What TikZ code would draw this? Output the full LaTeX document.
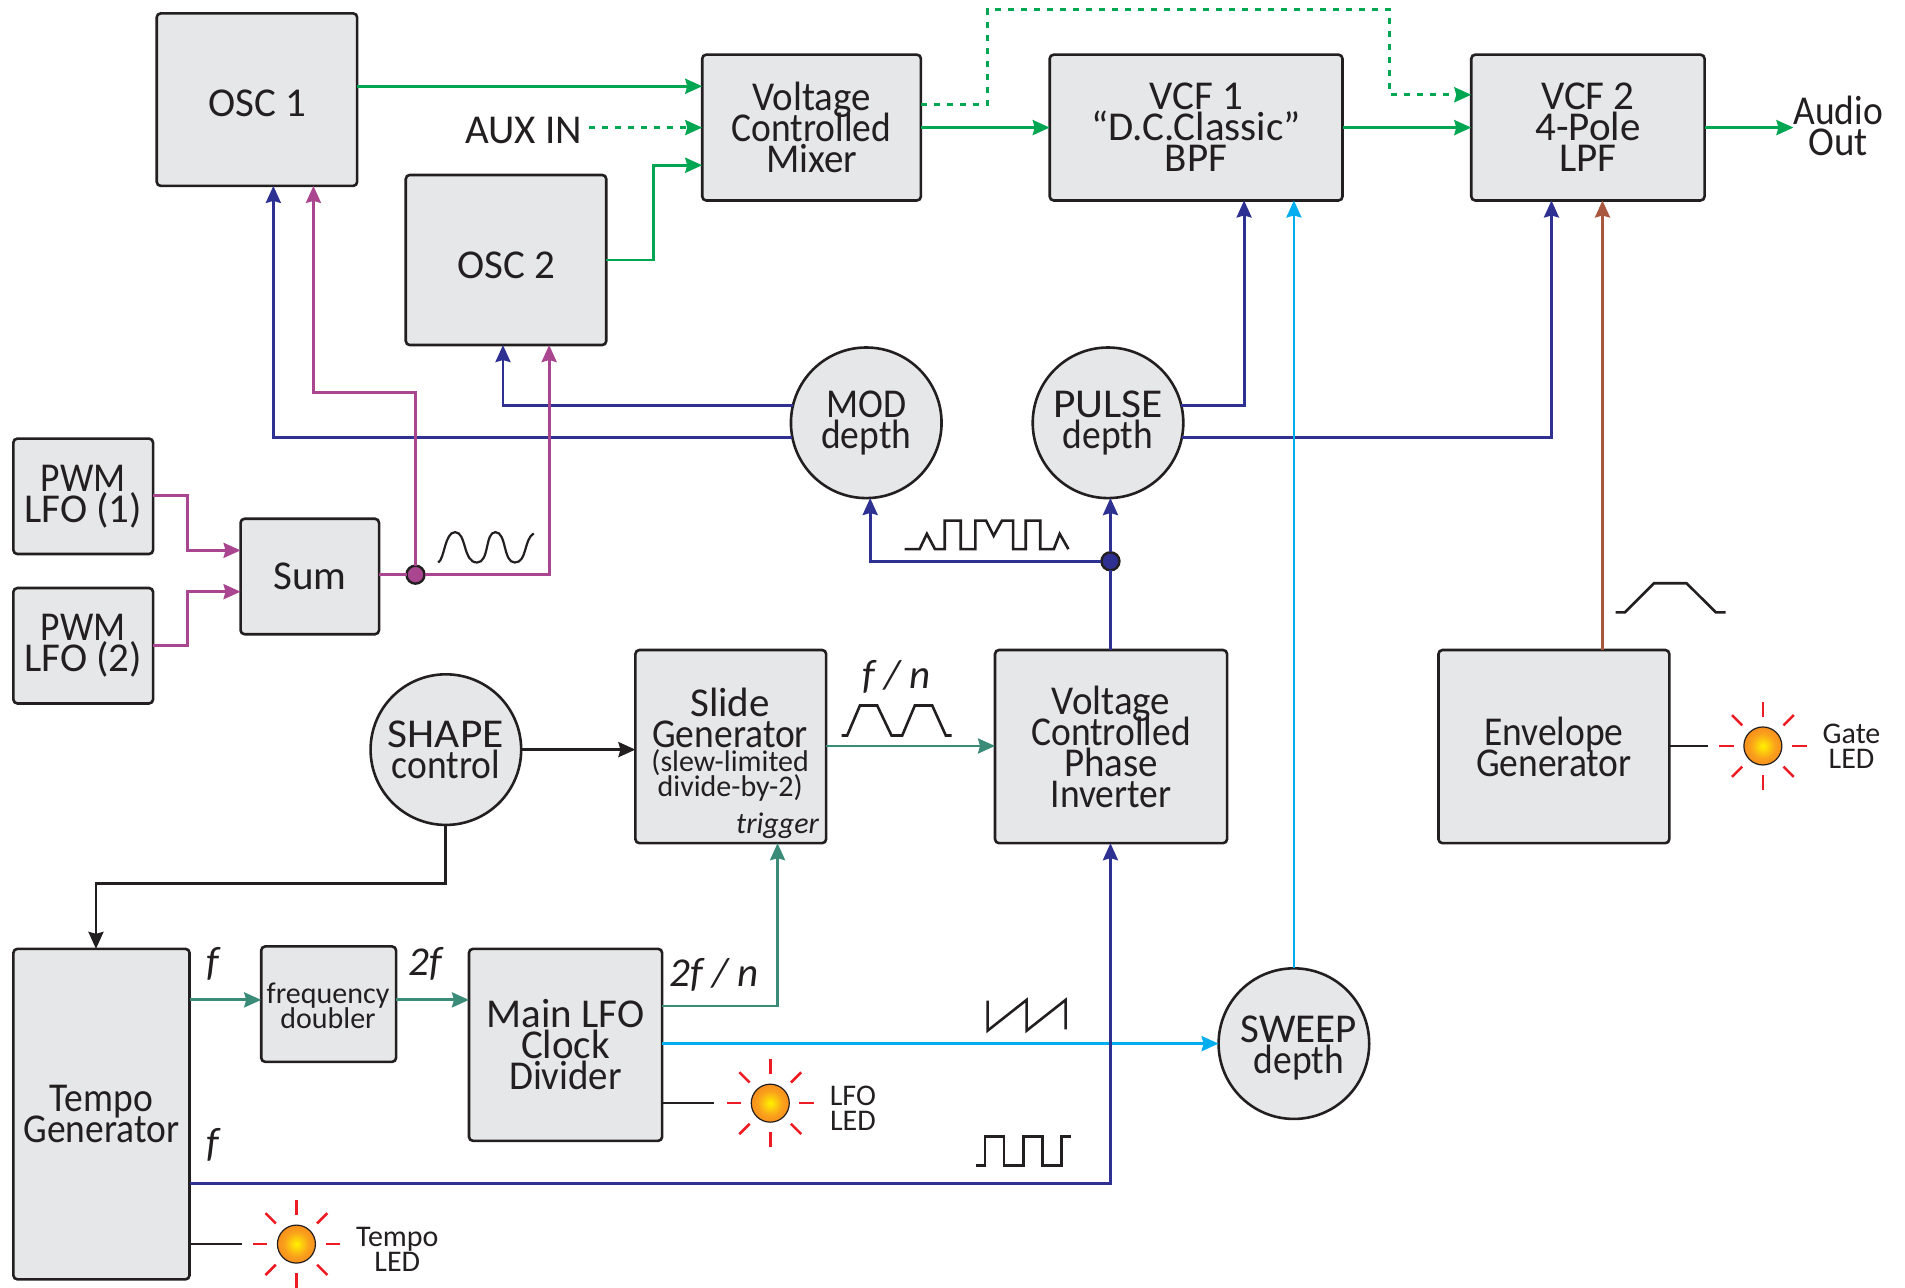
\documentclass[tikz,border=0pt]{standalone}
\usepackage{fontspec}
\setmainfont{Carlito}
\newfontfamily\cnfam[FakeStretch=0.915]{Carlito}
\newfontfamily\cmfam[FakeStretch=0.95]{Carlito}
\newfontfamily\wdfam[FakeStretch=1.06]{Carlito}
\usetikzlibrary{arrows.meta,calc}
\definecolor{ink}{HTML}{231F20}
\definecolor{boxfill}{HTML}{E6E7E8}
\definecolor{cgreen}{HTML}{00A651}
\definecolor{cblue}{HTML}{2E3192}
\definecolor{ccyan}{HTML}{00AEEF}
\definecolor{cmag}{HTML}{A9468F}
\definecolor{cteal}{HTML}{3A8B78}
\definecolor{cbrown}{HTML}{A9583F}
\definecolor{cred}{HTML}{ED1C24}
\definecolor{leda}{HTML}{FFF200}
\definecolor{ledb}{HTML}{FAA21B}
\definecolor{ledc}{HTML}{F47B20}
\definecolor{ledd}{HTML}{EF4A23}
\pgfdeclareradialshading{ledglow}{\pgfpoint{0bp}{0bp}}{%
  color(0bp)=(leda);
  color(16bp)=(ledb);
  color(34bp)=(ledc);
  color(50bp)=(ledd)}
\newcommand{\tgt}{\lineskiplimit=-100pt\relax}
\tikzset{
  x=1.2149pt,y=-1.2149pt,
  every node/.style={text=ink,outer sep=0pt,inner sep=0pt,align=center},
  big/.style={font=\fontsize{41}{31}\selectfont\tgt},
  small/.style={font=\fontsize{30}{25}\selectfont\tgt},
  tiny label/.style={font=\fontsize{30}{24.4}\selectfont\tgt},
  ital/.style={font=\fontsize{41}{31}\selectfont\itshape},
  boxnode/.style={draw=ink,fill=boxfill,line width=2.6pt,rounded corners=4pt,big},
  knob/.style={circle,draw=ink,fill=boxfill,line width=2.6pt,minimum size=150.6pt,big},
  conn/.style={line width=2.8pt,-{Stealth[length=17pt,width=15pt,inset=2pt]}},
  plain/.style={line width=2.6pt,draw=ink},
  dotted line/.style={dash pattern=on 6pt off 7pt},
  wave/.style={line width=2.6pt,draw=ink,line join=miter},
  jdot/.style={circle,draw=ink,line width=2.4pt,minimum size=18pt},
  ray/.style={line width=2.6pt,draw=cred},
  ledbulb/.style={circle,draw=ink,line width=1.2pt,minimum size=38pt,shading=ledglow},
}
\newcommand{\bx}[6]{\node[boxnode,minimum width={(#4-#2)*1.2149pt},minimum height={(#5-#3)*1.2149pt}] (#1) at ({(#2+#4)/2},{(#3+#5)/2}) {#6};}
\newcommand{\ledrays}[2]{%
  \foreach \a in {0,45,...,315} \draw[ray] ($(#1,#2)+(\a:24)$) -- ($(#1,#2)+(\a:36)$);}
\begin{document}
\begin{tikzpicture}
\useasboundingbox (0,0) rectangle (1568,1060);
% boxes
\bx{osc1}{129}{11}{294}{153}{}
\node[big] (osc1lab) at (212,85) {OSC 1};
\bx{mix}{578}{45}{758}{165}{{\cmfam Voltage}\\{\cnfam Controlled}\\{\cmfam Mixer}}
\bx{vcf1}{864}{45}{1105}{165}{VCF 1\\“D.C.Classic”\\BPF}
\bx{vcf2}{1211}{45}{1403}{165}{VCF 2\\4-Pole\\LPF}
\bx{osc2}{334}{144}{499}{284}{}
\node[big] (osc2lab) at (417,218) {OSC 2};
\bx{pwma}{11}{361}{126}{456}{{\cnfam PWM}\\LFO (1)}
\bx{pwmb}{11}{484}{126}{579}{{\cnfam PWM}\\LFO (2)}
\bx{sum}{198}{427}{312}{522}{Sum}
\bx{slide}{523}{535}{680}{694}{}
\bx{inv}{819}{535}{1010}{694}{{\cmfam Voltage}\\{\cnfam Controlled}\\{\cmfam Phase}\\{\cnfam Inverter}}
\bx{env}{1184}{535}{1374}{694}{{\cnfam Envelope}\\{\cnfam Generator}}
\bx{tempo}{11}{781}{156}{1053}{{\cnfam Tempo}\\{\cnfam Generator}}
\bx{dbl}{215}{779}{326}{874}{}
\node[tiny label] (dbllab) at (270,828) {frequency\\doubler};
\bx{lfo}{386}{781}{545}{939}{Main LFO\\Clock\\{\cmfam Divider}}
\node[big] (slidea) at (601,591) {Slide\\{\cnfam Generator}};
\node[small] (slideb) at (601,638) {(slew-limited\\divide-by-2)};
\node[font=\fontsize{30}{30}\selectfont\itshape] (trig) at (640,680) {trigger};
% knobs
\node[knob] (mod) at (713,348) {{\cnfam MOD}\\{\cnfam depth}};
\node[knob] (pulse) at (912,348) {{\wdfam PULSE}\\{\cnfam depth}};
\node[knob] (shape) at (367,617) {{\wdfam SHAPE}\\{\cnfam control}};
\node[knob] (sweep) at (1065,859) {};
\node[big] (sweeplab) at (1069,863) {SWEEP\\{\cnfam depth}};
% junctions
\node[jdot,fill=cmag] (jm) at (342,473) {};
\node[jdot,fill=cblue] (jb) at (914,462) {};
% free labels
\node[big] (aux) at (431,107) {AUX IN};
\node[big] (audio) at (1513,104) {{\cnfam Audio}\\{\cmfam Out}};
\node[small] (lfoled) at (702,912) {LFO\\LED};
\node[small] (tled) at (327,1028) {Tempo\\LED};
\node[small] (gled) at (1524,614) {Gate\\LED};
\node[ital] (lf1) at (175,793) {f};
\node[ital] (l2f) at (350,793) {2f};
\node[ital] (l2fn) at (588,802) {2f / n};
\node[ital] (lfn) at (738,557) {f / n};
\node[ital] (lf2) at (175,942) {f};
% audio path
\draw[conn,cgreen] (osc1.east |- 0,71) -- (mix.west |- 0,71);
\draw[conn,cgreen,dotted line] (aux.east |- 0,105) ++(6,0) -- (mix.west |- 0,105);
\draw[conn,cgreen] (osc2.east |- 0,214) -- (538,214) -- (538,136) -- (mix.west |- 0,136);
\draw[conn,cgreen] (mix.east |- 0,105) -- (vcf1.west |- 0,105);
\draw[conn,cgreen,dotted line] (mix.east |- 0,86) -- (813,86) -- (813,8) -- (1144,8) -- (1144,78) -- (vcf2.west |- 0,78);
\draw[conn,cgreen] (vcf1.east |- 0,105) -- (vcf2.west |- 0,105);
\draw[conn,cgreen] (vcf2.east |- 0,105) -- (audio.west |- 0,105);
% depth
\draw[conn,cblue] (mod.167) -| (osc2.south -| 414,0);
\draw[conn,cblue] (mod.191) -| (osc1.south -| 225,0);
\draw[conn,cblue] (pulse.13) -| (vcf1.south -| 1024,0);
% PWM
\draw[conn,cmag] (pwma.east |- 0,408) -- (154,408) -- (154,453) -- (sum.west |- 0,453);
\draw[conn,cmag] (pwmb.east |- 0,531) -- (154,531) -- (154,487) -- (sum.west |- 0,487);
\draw[line width=2.8pt,cmag] (sum.east |- jm) -- (jm.west);
\draw[conn,cmag] (jm.north) -- (342,323) -- (258,323) -- (osc1.south -| 258,0);
\draw[conn,cmag] (jm.east) -- (452,473) -- (osc2.south -| 452,0);
% cyan LFO sweep under the blue
\draw[conn,ccyan] (lfo.east |- 0,859) -- (sweep.west);
\draw[conn,cblue] (tempo.east |- 0,974) -- (914,974) -- (inv.south -| 914,0);
\draw[conn,cblue] (pulse.-11) -| (vcf2.south -| 1277,0);
\draw[conn,ccyan] (sweep.north) -- (vcf1.south -| sweep.north);
\draw[conn,cbrown] (env.north -| 1319,0) -- (vcf2.south -| 1319,0);
\draw[line width=2.8pt,cblue] (inv.north -| jb) -- (jb.south);
\draw[conn,cblue] (jb.north) -- (jb.north |- pulse.-88);
\draw[conn,cblue] (jb.west) -| (mod.-87);
% control
\draw[conn,ink] (shape.east) -- (slide.west |- shape.east);
\draw[conn,ink] (shape.south) -- (367,727) -- (79,727) -- (tempo.north -| 79,0);
\draw[conn,cteal] (slide.east |- 0,614) -- (inv.west |- 0,614);
\draw[conn,cteal] (tempo.east |- 0,823) -- (dbl.west |- 0,823);
\draw[conn,cteal] (dbl.east |- 0,823) -- (lfo.west |- 0,823);
\draw[conn,cteal] (lfo.east |- 0,828) -- (640,828) -- (slide.south -| 640,0);
% LEDs
\node[ledbulb] (lled) at (634,908) {};
\node[ledbulb] (tl) at (244,1024) {};
\node[ledbulb] (gl) at (1451,614) {};
\ledrays{634}{908}
\ledrays{244}{1024}
\ledrays{1451}{614}
\draw[plain] (lfo.east |- lled) -- ++(43,0);
\draw[plain] (tempo.east |- tl) -- ++(43,0);
\draw[plain] (env.east |- gl) -- ++(32,0);
% waveforms
\draw[wave,line width=2.2pt] (360.7,463) .. controls (366,460) and (366,438) .. (374.6,438) .. controls (384,438) and (381,463) .. (392.6,463) .. controls (403,463) and (399,438) .. (407.8,438) .. controls (417,438) and (414,463) .. (423.7,463) .. controls (434,463) and (431,444) .. (439.3,439);
\draw[wave] (744.5,452) -- (756.9,452) -- (762.9,439.4) -- (769.6,452) -- (777.6,452) -- (777.6,428.5) -- (790.8,428.5) -- (790.8,452) -- (802.8,452) -- (802.8,428.5) -- (811.6,428.5) -- (817.9,441) -- (824.7,428.5) -- (833.9,428.5) -- (833.9,452) -- (844.3,452) -- (844.3,428.5) -- (856.2,428.5) -- (856.2,452) -- (867.4,452) -- (872.2,439.4) -- (879.4,452);
\draw[wave] (692.7,605.4) -- (697.3,605.4) -- (707.8,580.7) -- (722,580.7) -- (733.8,605.4) -- (742.6,605.4) -- (753,580.7) -- (767.3,580.7) -- (778.5,605.4) -- (783.2,605.4);
\draw[wave] (1329.8,504) -- (1337.4,504) -- (1361.3,480.1) -- (1388.2,480.1) -- (1412.3,504) -- (1420.3,504);
\draw[wave] (812.9,823.6) -- (812.9,848.3) -- (845,823) -- (845,848.3) -- (877.1,823) -- (877.1,847.2);
\draw[wave] (803,959.4) -- (810.7,959.4) -- (810.7,935.5) -- (826.4,935.5) -- (826.4,959.4) -- (842.3,959.4) -- (842.3,935.5) -- (857.9,935.5) -- (857.9,959.4) -- (873.8,959.4) -- (873.8,935.5) -- (881.2,935.5);
\end{tikzpicture}
\end{document}
